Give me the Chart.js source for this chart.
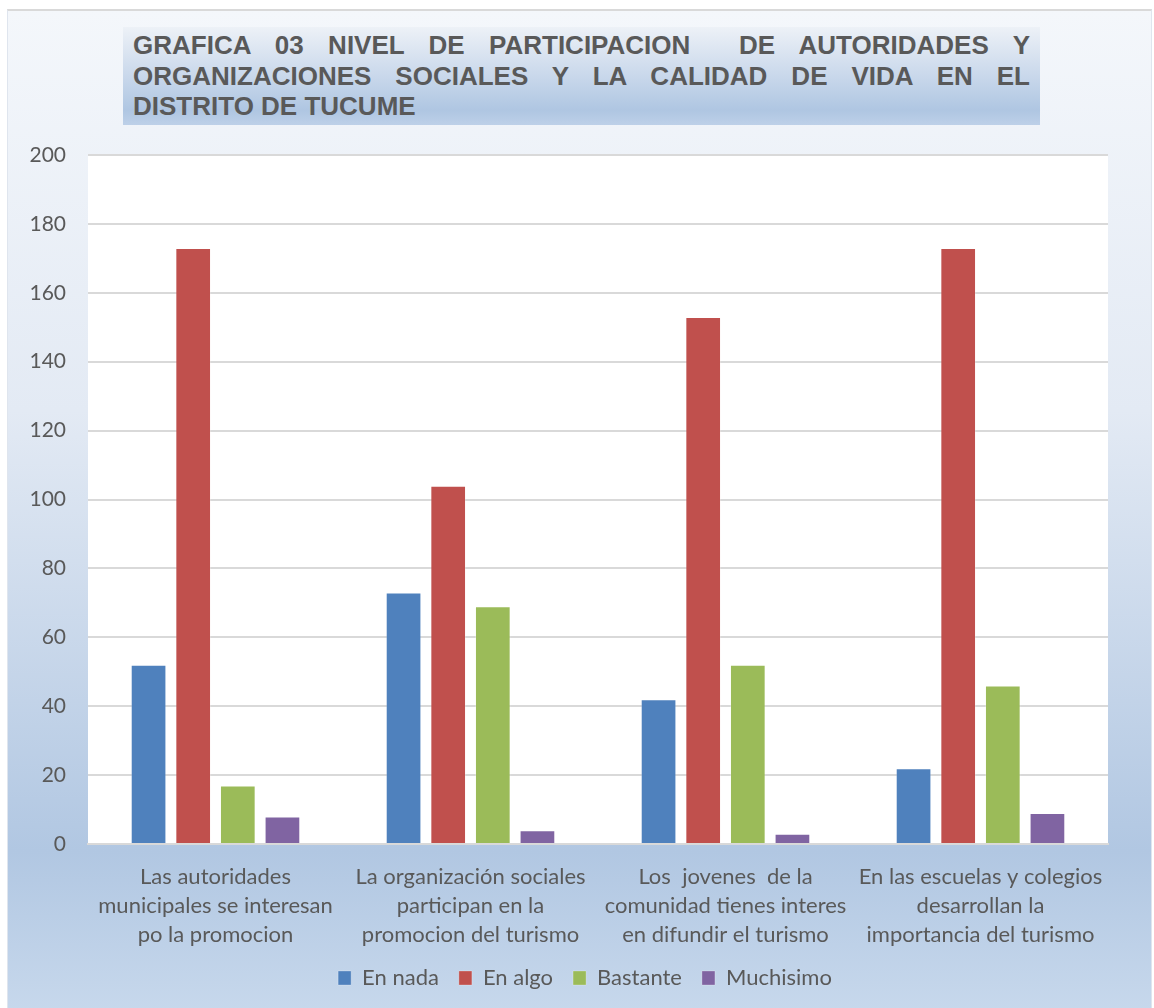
<!DOCTYPE html>
<html>
<head>
<meta charset="utf-8">
<script src="https://cdn.jsdelivr.net/npm/chart.js@4"></script>
<style>
  body { margin: 0; background: #fff; }
  #wrap { position: relative; width: 1154px; height: 1008px; overflow: hidden; }
  #frame {
    position: absolute; left: 7px; top: 9px; width: 1143px; height: 1000px;
    border-top: 2px solid #d9d9d9; border-left: 1px solid #dfe5ee; border-right: 1px solid #dfe5ee;
    background: linear-gradient(to bottom, #f4f7fb 0%, #e3eaf4 40%, #b1c7e2 84%, #c7d8ec 100%);
  }
  #title {
    position: absolute; left: 123px; top: 27px; width: 917px; height: 98px;
    box-sizing: border-box; padding: 3px 10px 0 10px;
    background: linear-gradient(to bottom, #edf1f7 0%, #c9d8eb 50%, #afc6e2 85%, #bdd0e8 100%);
    font-family: "Liberation Sans", Arial, sans-serif; font-weight: bold; font-size: 26px;
    line-height: 30.5px; color: #595959; white-space: nowrap;
  }
  #title .j { text-align: justify; text-align-last: justify; white-space: normal; }
  canvas { position: absolute; left: 0; top: 0; }
</style>
</head>
<body>
<div id="wrap">
  <div id="frame"></div>
  <div id="title">
    <div class="j">GRAFICA 03 NIVEL DE PARTICIPACION &nbsp;DE AUTORIDADES Y</div>
    <div class="j">ORGANIZACIONES SOCIALES Y LA CALIDAD DE VIDA EN EL</div>
    <div>DISTRITO DE TUCUME</div>
  </div>
  <canvas id="chart" width="1154" height="1008"></canvas>
</div>
<script>
const categories = [
  ["Las autoridades", "municipales se interesan", "po la promocion"],
  ["La organización sociales", "participan en la", "promocion del turismo"],
  ["Los  jovenes  de la", "comunidad tienes interes", "en difundir el turismo"],
  ["En las escuelas y colegios", "desarrollan la", "importancia del turismo"],
];
const enNada = [52, 73, 42, 22];
const enAlgo = [173, 104, 153, 173];
const bastante = [17, 69, 52, 46];
const muchisimo = [8, 4, 3, 9];
const yTicks = [0, 20, 40, 60, 80, 100, 120, 140, 160, 180, 200];

const whitePlot = {
  id: "whitePlot",
  beforeDraw(chart) {
    const { ctx, chartArea: a } = chart;
    ctx.save();
    ctx.fillStyle = "#ffffff";
    ctx.fillRect(a.left, a.top, a.right - a.left, a.bottom - a.top);
    ctx.restore();
  },
};

// legend in the original sits a bit right of the plot centre
const shiftLegend = {
  id: "shiftLegend",
  afterLayout(chart) {
    chart.legend.left += 31;
    chart.legend.right += 31;
  },
};

const family = "Lato, 'Open Sans', sans-serif";

const mk = (label, data, color) => ({
  label: label,
  data: data,
  backgroundColor: color,
  borderColor: "rgba(255,255,255,0.25)",
  borderWidth: 1,
  categoryPercentage: 0.7,
  barPercentage: 0.8,
});

new Chart(document.getElementById("chart"), {
  type: "bar",
  data: {
    labels: categories,
    datasets: [
      mk("En nada", enNada, "#4f81bd"),
      mk("En algo", enAlgo, "#c0504d"),
      mk("Bastante", bastante, "#9bbb59"),
      mk("Muchisimo", muchisimo, "#8064a2"),
    ],
  },
  options: {
    responsive: false,
    animation: false,
    layout: { padding: { top: 155, right: 46, bottom: 9, left: 0 } },
    plugins: {
      legend: {
        position: "bottom",
        labels: {
          color: "#595959",
          font: { family: family, size: 22 },
          boxWidth: 13,
          boxHeight: 14,
          padding: 20,
        },
      },
      tooltip: { enabled: false },
    },
    scales: {
      x: {
        grid: { display: false },
        border: { color: "#d9d9d9", width: 2 },
        ticks: {
          color: "#595959",
          font: { family: family, size: 22, lineHeight: 1.32 },
          maxRotation: 0,
          padding: 10,
        },
        afterFit: (s) => { s.height = 103; },
      },
      y: {
        min: 0,
        max: 200,
        afterBuildTicks: (s) => { s.ticks = yTicks.map((v) => ({ value: v })); },
        grid: { color: "#d9d9d9", lineWidth: 2, drawTicks: false },
        border: { display: false },
        ticks: { color: "#595959", font: { family: family, size: 21 }, padding: 22 },
        afterFit: (s) => { s.width = 88; },
      },
    },
  },
  plugins: [whitePlot, shiftLegend],
});
</script>
</body>
</html>
